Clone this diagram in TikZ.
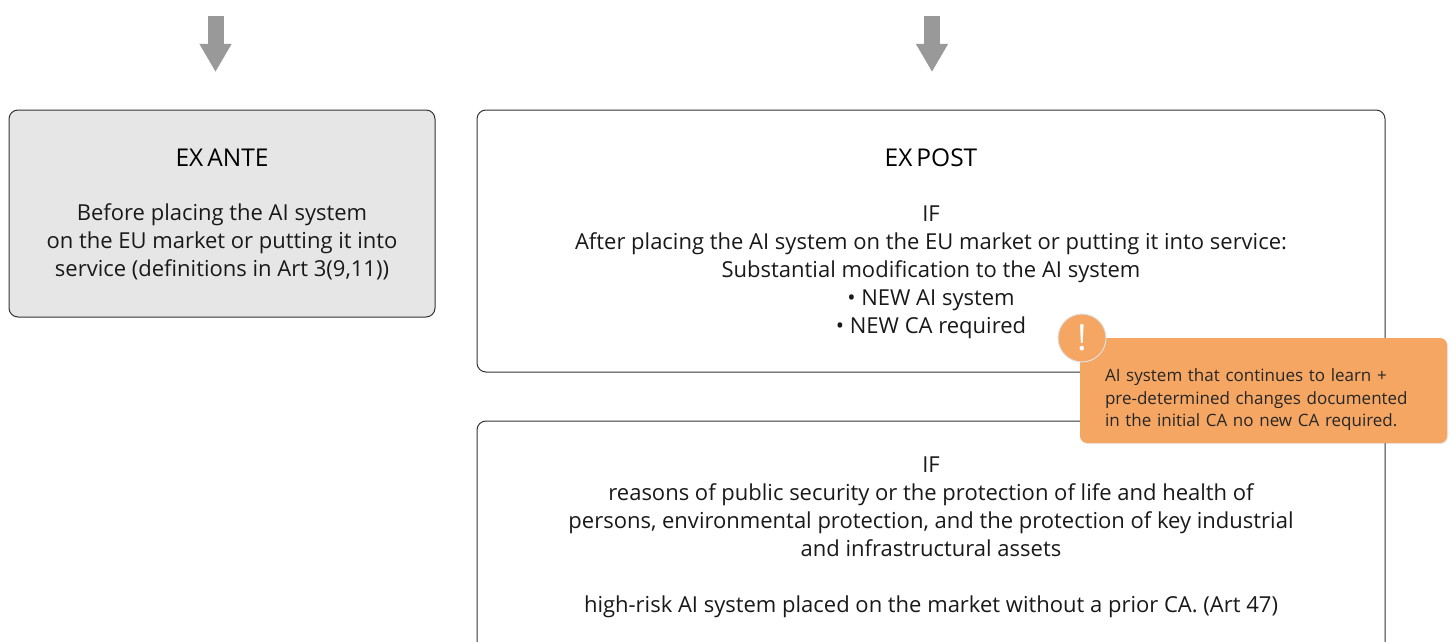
\documentclass[tikz,border=0pt]{standalone}
\usepackage{fontspec}
\setmainfont{Open Sans}
\usetikzlibrary{positioning,arrows.meta,shadows}
\definecolor{calloutorange}{HTML}{F5A663}
\definecolor{arrowgray}{HTML}{999999}
\definecolor{boxgray}{HTML}{E6E6E6}
\newcommand{\boxhead}[3]{\rule{0pt}{#1}\raisebox{#2}{\fontsize{24.5}{28}\selectfont\color{black}#3}}
\tikzset{
  box/.style={draw=black!80, line width=1pt, rounded corners=9pt, outer sep=0pt, align=center,
    font=\fontsize{22}{28}\selectfont, text=black!90},
  bigarrow/.style={draw=arrowgray, line width=16pt, -{Triangle[length=28pt,width=30pt]}},
  calloutbox/.style={fill=calloutorange, rounded corners=7pt, minimum width=367pt, minimum height=105pt,
    outer sep=0pt, drop shadow={opacity=0.18,shadow xshift=1pt,shadow yshift=-1pt}},
  callouttext/.style={text width=317pt, inner sep=0pt, align=left, text=black!85,
    font=\fontsize{17}{22.5}\selectfont},
  badge/.style={circle, fill=calloutorange, draw=black!12, line width=1pt, minimum size=48pt, inner sep=0pt,
    text=white, font=\fontsize{36}{36}\selectfont},
}
\begin{document}
\begin{tikzpicture}[x=1pt,y=-1pt]
  \useasboundingbox (0,0) rectangle (1453,642);
  \clip (0,0) rectangle (1453,642);

  \node[box, fill=boxgray, minimum width=426pt, minimum height=207pt] (exante) at (222,213.5)
    {\boxhead{17pt}{-2.5pt}{EX\hspace{4pt}ANTE}\\ \mbox{}\\ Before placing the AI system\\ on the EU market or putting it into\\ service (definitions in Art 3(9,11))};
  \node[box, minimum width=908pt, minimum height=262pt, right=42pt of exante.north east, anchor=north west] (expost)
    {\boxhead{23pt}{-0.5pt}{EX\hspace{4pt}POST}\\ \mbox{}\\ IF\\ After placing the AI system on the EU market or putting it into service:\\
     Substantial modification to the AI system\\ • NEW AI system\\ • NEW CA required};
  \node[box, minimum width=908pt, minimum height=282pt, below=49pt of expost] (ifbox)
    {\rule{0pt}{17pt}IF\\ reasons of public security or the protection of life and health of\\
     persons, environmental protection, and the protection of key industrial\\ and infrastructural assets\\ \mbox{}\\
     high-risk AI system placed on the market without a prior CA. (Art 47)\\ \mbox{}\\ \mbox{}};

  \coordinate (antetop) at (215.5,16);
  \coordinate (antetip) at (215.5,72);
  \coordinate (posttop) at (932,16);
  \coordinate (posttip) at (932,72);
  \draw[bigarrow] (antetop) -- (antetip);
  \draw[bigarrow] (posttop) -- (posttip);

  \node[calloutbox] (callout) at (1263.5,390.5) {};
  \node[callouttext] (callouttxt) at ([yshift=-9.5pt]callout.center)
    {AI system that continues to learn +\\ pre-determined changes documented\\ in the initial CA no new CA required.};
  \node[badge] (warn) at (1082,338) {!};
\end{tikzpicture}
\end{document}
